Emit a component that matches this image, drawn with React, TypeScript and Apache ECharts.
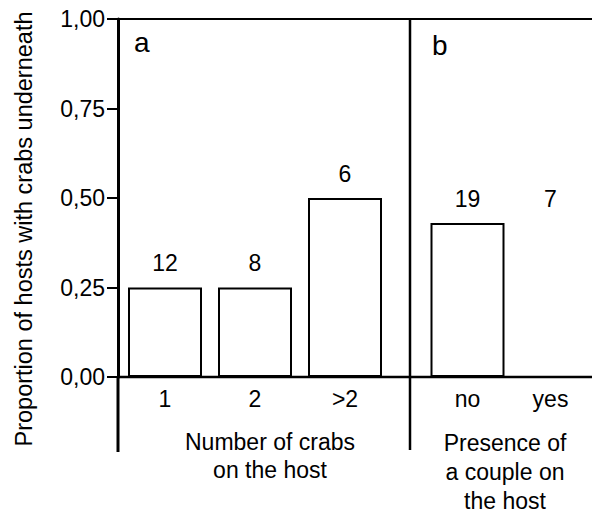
import React, { useEffect, useRef } from "react";
import * as echarts from "echarts";

// ---- data ----
const crabCategories = ["1", "2", ">2"];
const crabProportions = [0.25, 0.25, 0.5];
const crabCounts = [12, 8, 6];

const coupleCategories = ["no", "yes"];
const coupleProportions = [0.43, 0];
const coupleCounts = [19, 7];

const yTickLabels = ["0,00", "0,25", "0,50", "0,75", "1,00"];

const yTitle = "Proportion of hosts with crabs underneath";
const crabTitle = "Number of crabs\non the host";
const coupleTitle = "Presence of\na couple on\nthe host";

// ---- layout ----
const W = 592;
const H = 518;
const TOP = 19;
const BOTTOM_Y = 377;
const GRID_H = BOTTOM_Y - TOP;
const AXIS_X = 118;
const DIVIDER_X = 410;
const FONT = "'Liberation Sans', Arial, Helvetica, sans-serif";
const INK = "#000";

export default function App() {
  const ref = useRef<HTMLDivElement>(null);

  useEffect(() => {
    document.body.style.margin = "0";
    if (!ref.current) return;
    const chart = echarts.init(ref.current, undefined, { renderer: "svg" });

    const labelLevelB = coupleProportions.map((v) =>
      v > 0 ? v : Math.max(...coupleProportions)
    );

    const barStyle = {
      color: "#fff",
      borderColor: INK,
      borderWidth: 2,
    };

    const countLabel = {
      show: true,
      position: "top",
      distance: 13,
      fontSize: 23,
      fontFamily: FONT,
      color: INK,
      opacity: 1,
      formatter: (p: any) => String(p.data.count),
    };

    const catAxis = (idx: number, data: string[]) => ({
      type: "category",
      gridIndex: idx,
      data,
      axisLine: { show: false },
      axisTick: { show: false },
      axisLabel: { fontSize: 23, fontFamily: FONT, color: INK, margin: 10 },
      splitLine: { show: false },
    });

    const labelSeries = (idx: number, levels: number[], counts: number[]) => ({
      type: "scatter",
      xAxisIndex: idx,
      yAxisIndex: idx,
      symbolSize: 0,
      silent: true,
      itemStyle: { color: INK, opacity: 1 },
      data: levels.map((v, i) => ({ value: [i, v], count: counts[i] })),
      label: countLabel,
    });

    const option: any = {
      animation: false,
      backgroundColor: "#fff",
      grid: [
        { left: 120, top: TOP, width: 270, height: GRID_H },
        { left: 426, top: TOP, width: 172, height: GRID_H },
      ],
      xAxis: [catAxis(0, crabCategories), catAxis(1, coupleCategories)],
      yAxis: [
        {
          type: "value",
          gridIndex: 0,
          min: 0,
          max: 1,
          interval: 0.25,
          offset: 2,
          axisLine: { show: true, lineStyle: { color: INK, width: 3 } },
          axisTick: { show: true, length: 11, lineStyle: { color: INK, width: 2 } },
          axisLabel: {
            fontSize: 23,
            fontFamily: FONT,
            color: INK,
            margin: 13,
            formatter: (v: number) => yTickLabels[Math.round(v / 0.25)],
          },
          splitLine: { show: false },
        },
        {
          type: "value",
          gridIndex: 1,
          min: 0,
          max: 1,
          interval: 0.25,
          show: false,
          splitLine: { show: false },
        },
      ],
      series: [
        {
          type: "bar",
          xAxisIndex: 0,
          yAxisIndex: 0,
          barWidth: 74,
          data: crabProportions,
          itemStyle: barStyle,
        },
        {
          type: "bar",
          xAxisIndex: 1,
          yAxisIndex: 1,
          barWidth: 74,
          data: coupleProportions,
          itemStyle: barStyle,
        },
        labelSeries(0, crabProportions, crabCounts),
        labelSeries(1, labelLevelB, coupleCounts),
      ],
      graphic: [
        // frame lines
        {
          type: "line",
          shape: { x1: AXIS_X, y1: TOP, x2: W, y2: TOP },
          style: { stroke: INK, lineWidth: 2 },
        },
        {
          type: "line",
          shape: { x1: AXIS_X, y1: BOTTOM_Y, x2: W, y2: BOTTOM_Y },
          style: { stroke: INK, lineWidth: 2.5 },
        },
        {
          type: "line",
          shape: { x1: AXIS_X, y1: BOTTOM_Y, x2: AXIS_X, y2: 452 },
          style: { stroke: INK, lineWidth: 3 },
        },
        {
          type: "line",
          shape: { x1: DIVIDER_X, y1: TOP, x2: DIVIDER_X, y2: 450 },
          style: { stroke: INK, lineWidth: 2.5 },
        },
        // panel letters
        {
          type: "text",
          x: 134,
          y: 42,
          style: { text: "a", fontSize: 28, fontFamily: FONT, fill: INK, align: "left", verticalAlign: "middle" },
        },
        {
          type: "text",
          x: 432,
          y: 45,
          style: { text: "b", fontSize: 28, fontFamily: FONT, fill: INK, align: "left", verticalAlign: "middle" },
        },
        // axis titles
        {
          type: "text",
          x: 24,
          y: 229,
          rotation: Math.PI / 2,
          style: { text: yTitle, fontSize: 23.5, fontFamily: FONT, fill: INK, align: "center", verticalAlign: "middle" },
        },
        {
          type: "text",
          x: 270,
          y: 428,
          style: {
            text: crabTitle,
            fontSize: 23,
            lineHeight: 28,
            fontFamily: FONT,
            fill: INK,
            align: "center",
            verticalAlign: "top",
          },
        },
        {
          type: "text",
          x: 505,
          y: 428,
          style: {
            text: coupleTitle,
            fontSize: 23,
            lineHeight: 29,
            fontFamily: FONT,
            fill: INK,
            align: "center",
            verticalAlign: "top",
          },
        },
      ],
    };

    chart.setOption(option);
    return () => chart.dispose();
  }, []);

  return <div ref={ref} style={{ width: W, height: H }} />;
}
